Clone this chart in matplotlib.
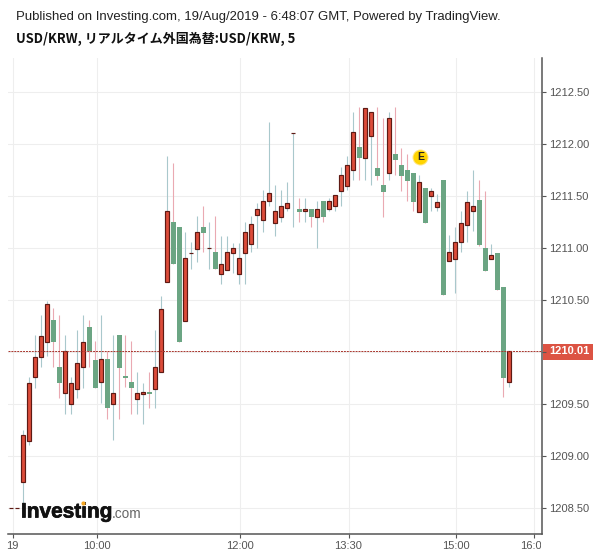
import numpy as np
import matplotlib.pyplot as plt
import matplotlib.patheffects as pe
from matplotlib.lines import Line2D
from matplotlib.patches import Rectangle
from matplotlib.transforms import Bbox

# USD/KRW 5 minute candles (10 per row)
opens = [1208.50, 1208.50,
         1208.75, 1209.15, 1209.76, 1209.95, 1210.10, 1210.31, 1209.86, 1209.61, 1209.50, 1209.65,
         1209.86, 1210.24, 1209.92, 1209.71, 1209.93, 1209.50, 1210.16, 1209.768, 1209.71, 1209.55,
         1209.60, 1209.62, 1209.65, 1209.81, 1210.67, 1211.25, 1211.20, 1210.30, 1210.95, 1210.99,
         1211.20, 1211.00, 1210.96, 1210.75, 1210.79, 1210.955, 1210.75, 1210.95, 1211.04, 1211.32,
         1211.27, 1211.45, 1211.24, 1211.30, 1211.38, 1212.10, 1211.37, 1211.35, 1211.37, 1211.30,
         1211.45, 1211.37, 1211.40, 1211.55, 1211.59, 1211.75, 1211.97, 1211.86, 1212.07, 1211.77,
         1211.60, 1211.72, 1211.90, 1211.80, 1211.75, 1211.72, 1211.34, 1211.57, 1211.50, 1211.39,
         1211.65, 1210.87, 1210.89, 1211.06, 1211.22, 1211.35, 1211.455, 1211.00, 1210.89, 1210.95,
         1210.62, 1209.71]
closes = [1208.50, 1208.50,
          1209.205, 1209.70, 1209.95, 1210.15, 1210.46, 1210.10, 1209.70, 1210.01, 1209.70, 1209.90,
          1210.10, 1210.01, 1209.66, 1209.93, 1209.46, 1209.61, 1209.85, 1209.756, 1209.66, 1209.61,
          1209.62, 1209.60, 1209.86, 1210.41, 1211.355, 1210.85, 1210.10, 1210.90, 1210.95, 1211.15,
          1211.14, 1211.00, 1210.80, 1210.85, 1210.96, 1211.00, 1210.90, 1211.15, 1211.23, 1211.37,
          1211.45, 1211.525, 1211.35, 1211.40, 1211.43, 1212.10, 1211.345, 1211.37, 1211.30, 1211.37,
          1211.30, 1211.45, 1211.505, 1211.70, 1211.80, 1212.115, 1211.86, 1212.345, 1212.30, 1211.69,
          1211.54, 1212.25, 1211.84, 1211.69, 1211.64, 1211.44, 1211.63, 1211.235, 1211.55, 1211.44,
          1210.55, 1210.96, 1211.06, 1211.24, 1211.44, 1211.40, 1211.03, 1210.78, 1210.93, 1210.60,
          1209.755, 1210.01]
highs = [1208.50, 1208.50,
         1209.25, 1209.76, 1210.16, 1210.36, 1210.49, 1210.42, 1210.36, 1210.16, 1209.76, 1210.21,
         1210.36, 1210.31, 1210.11, 1210.36, 1210.01, 1210.16, 1210.16, 1210.16, 1210.11, 1209.81,
         1209.70, 1209.81, 1210.21, 1210.54, 1211.88, 1211.81, 1211.20, 1211.15, 1211.06, 1211.31,
         1211.40, 1211.25, 1211.31, 1211.11, 1211.11, 1211.05, 1211.05, 1211.25, 1211.31, 1211.43,
         1211.56, 1212.21, 1211.60, 1211.56, 1211.63, 1212.10, 1211.48, 1211.48, 1211.37, 1211.45,
         1211.45, 1211.48, 1211.505, 1211.78, 1211.88, 1212.30, 1212.35, 1212.345, 1212.30, 1212.35,
         1212.25, 1212.30, 1212.35, 1211.955, 1211.90, 1211.72, 1211.70, 1211.57, 1211.57, 1211.52,
         1211.65, 1211.12, 1211.20, 1211.35, 1211.55, 1211.75, 1211.65, 1211.55, 1211.04, 1210.95,
         1210.62, 1210.01]
lows = [1208.50, 1208.50,
        1208.53, 1209.11, 1209.66, 1209.86, 1209.96, 1209.86, 1209.56, 1209.41, 1209.41, 1209.56,
        1209.66, 1209.86, 1209.66, 1209.51, 1209.36, 1209.16, 1209.36, 1209.67, 1209.41, 1209.41,
        1209.31, 1209.46, 1209.46, 1209.81, 1210.67, 1210.85, 1210.10, 1210.30, 1210.80, 1210.86,
        1210.96, 1210.80, 1210.80, 1210.65, 1210.79, 1210.76, 1210.65, 1210.65, 1210.96, 1211.00,
        1211.15, 1211.40, 1211.11, 1211.25, 1211.355, 1211.20, 1211.25, 1211.25, 1211.20, 1211.00,
        1211.25, 1211.355, 1211.355, 1211.40, 1211.56, 1211.65, 1211.65, 1211.65, 1211.60, 1211.65,
        1211.30, 1211.65, 1211.70, 1211.55, 1211.45, 1211.35, 1211.34, 1211.235, 1211.35, 1211.35,
        1210.55, 1210.87, 1210.57, 1210.96, 1211.06, 1211.16, 1211.02, 1210.78, 1210.89, 1210.60,
        1209.57, 1209.67]

y_ticks = [1208.5, 1209.0, 1209.5, 1210.0, 1210.5, 1211.0, 1211.5, 1212.0, 1212.5]
# 1210.00 sits behind the last price tag
y_tick_labels = ['1208.50', '1209.00', '1209.50', '', '1210.50', '1211.00', '1211.50', '1212.00', '1212.50']
x_tick_pos = [-1.77, 12.23, 36.17, 54.2, 72.17, 85.17]
x_tick_labels = ['19', '10:00', '12:00', '13:30', '15:00', '16:00']
last_price = 1210.01
earnings_pos = (66.2, 1211.87)

UP = '#dc4c3a'
UP_EDGE = '#5e1a14'
DOWN = '#6ba583'
UP_WICK = '#a9c8cc'
DOWN_WICK = '#eaa9b2'
TXT = '#555555'
plt.rcParams['font.family'] = ['Liberation Sans', 'Noto Sans CJK JP', 'DejaVu Sans']

x = np.arange(len(opens)) - 2
o = np.array(opens)
c = np.array(closes)
h = np.array(highs)
l = np.array(lows)
up = c >= o

fig = plt.figure(figsize=(6, 5.58), dpi=100)
ax = fig.add_axes([8 / 600, (558 - 534.3) / 558, (542.3 - 8) / 600, (534.3 - 58.3) / 558])
ax.set_xlim(-2.55, 86.5)
ax.set_ylim(1208.252, 1212.819)

ax.set_axisbelow(True)
ax.grid(True, color='#eeeeee', lw=0.8)

ax.vlines(x[up], l[up], h[up], color=UP_WICK, lw=0.8, zorder=2, snap=True)
ax.vlines(x[~up], l[~up], h[~up], color=DOWN_WICK, lw=0.8, zorder=2, snap=True)
ax.bar(x[~up], (o - c)[~up], bottom=c[~up], width=0.8, color=DOWN, lw=0, zorder=3)
ax.bar(x[up], (c - o)[up], bottom=o[up], width=0.7, color=UP, edgecolor=UP_EDGE, lw=0.85, zorder=3)

ax.axhline(last_price, color='#a8352c', lw=0.7, ls=(0, (2, 1)), zorder=4)

# earnings marker
ax.plot(*earnings_pos, 'o', ms=11.5, color='#ffe680', mec='none', zorder=5)
ax.plot(*earnings_pos, 'o', ms=10, color='#ffd400', mec='none', zorder=6)
ax.text(*earnings_pos, 'E', ha='center', va='center', fontsize=7.5, fontweight='bold',
        color='#222222', zorder=7)

for s in ['top', 'left']:
    ax.spines[s].set_visible(False)
for s in ['right', 'bottom']:
    ax.spines[s].set_color('#555555')
    ax.spines[s].set_linewidth(1.1)

ax.yaxis.tick_right()
ax.set_yticks(y_ticks, y_tick_labels)
ax.set_xticks(x_tick_pos, x_tick_labels)
ax.tick_params(axis='y', length=3, width=0.8, color='#555555', labelcolor=TXT, labelsize=8, pad=2)
ax.tick_params(axis='x', length=3, width=0.8, color='#555555', labelcolor=TXT, labelsize=8, pad=2)

# the last time label is cut off at the price axis
clip = Bbox([[0, 0], [541, 558]])
ax.get_xticklabels()[-1].set_clip_box(clip)
ax.get_xticklabels()[-1].set_clip_on(True)

# last price tag
fig.add_artist(Rectangle((542.7 / 600, 1 - 360 / 558), 50 / 600, 16 / 558, transform=fig.transFigure,
                         fc='#dc5343', ec='none', zorder=8))
ax.annotate('%.2f' % last_price, xy=(1, last_price), xycoords=('axes fraction', 'data'),
            xytext=(5, 0), textcoords='offset points', ha='left', va='center',
            fontsize=8, fontweight='bold', color='white', zorder=9, annotation_clip=False)
ax.set_zorder(10)
ax.patch.set_alpha(0)

fig.text(16 / 600, 1 - 17 / 558, 'Published on Investing.com, 19/Aug/2019 - 6:48:07 GMT, Powered by TradingView.',
         fontsize=9.47, color='#222222', va='center')
fig.text(16 / 600, 1 - 39 / 558, 'USD/KRW, リアルタイム外国為替:USD/KRW, 5',
         fontsize=9.35, fontweight='bold', color='#111111', va='center',
         fontfamily=['Noto Sans CJK JP', 'DejaVu Sans'])

# logo
fig.text(21 / 600, 1 - 512 / 558, 'Investing', fontsize=15, fontweight='bold', color='#111111',
         va='center', zorder=20, path_effects=[pe.withStroke(linewidth=0.5, foreground='#111111')])
fig.text(112 / 600, 1 - 514 / 558, '.com', fontsize=9.8, color='#666666', va='center', zorder=20)
fig.add_artist(Line2D([83 / 600], [1 - 503 / 558], marker='o', ms=3, color='#f5a623', mec='none',
                      transform=fig.transFigure, zorder=21))

fig.savefig('out.png', dpi=100)
